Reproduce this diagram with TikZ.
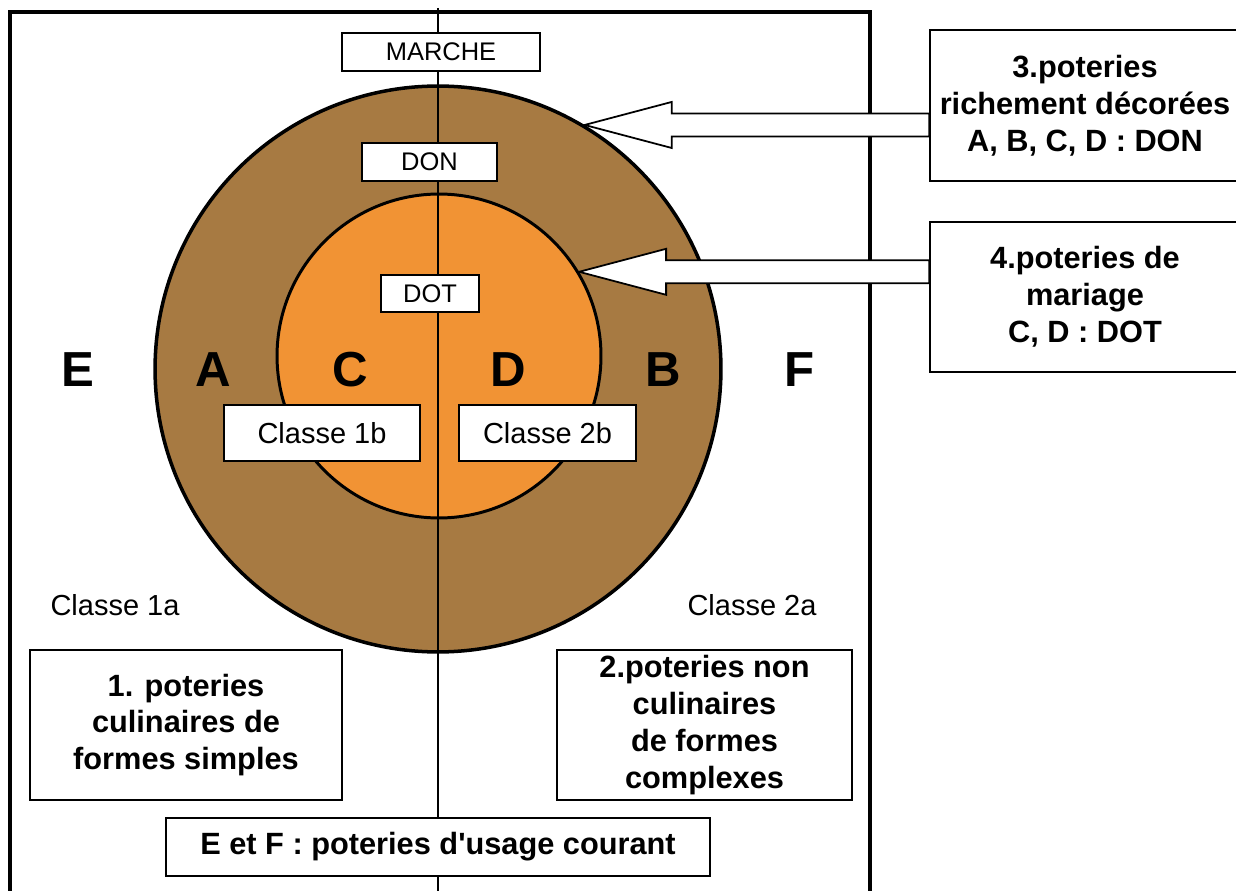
\documentclass[tikz,border=0pt]{standalone}
\usepackage{fontspec}
\setmainfont{Liberation Sans}
\usetikzlibrary{calc}
\definecolor{don}{RGB}{167,122,66}
\definecolor{dot}{RGB}{241,147,52}
\tikzstyle{etiquette}=[draw, fill=white, line width=0.9pt, inner sep=0pt, font=\fontsize{14.5}{16}\selectfont]
\tikzstyle{classe}=[etiquette, font=\fontsize{16.5}{19}\selectfont]
\tikzstyle{cadre}=[draw, fill=white, line width=0.9pt, inner sep=0pt, align=center, font=\bfseries\fontsize{17.5}{21}\selectfont]
\tikzset{lettre/.style={font=\bfseries\fontsize{28}{30}\selectfont}}
\tikzset{hollow/.style={draw, fill=white, line width=1pt, line join=miter}}
\newcommand\grossefleche[2]{%
  \draw[hollow] (#1) -- ++(87,-23) -- ++(0,11.5)
    -- ($(#2.west |- #1)+(0,-11.5)$) -- ($(#2.west |- #1)+(0,11.5)$)
    -- ($(#1)+(87,11.5)$) -- ++(0,11.5) -- cycle;}

\begin{document}
\begin{tikzpicture}[x=0.02cm, y=-0.02cm]
  \useasboundingbox (0,0) rectangle (1236,891);

  %% Rings
  \node[circle, draw, line width=2pt, fill=don, minimum size=11.32cm] (anneau) at (438,369) {};
  \node[circle, draw, line width=1.7pt, fill=dot, minimum size=6.48cm] (coeur) at (439,356) {};

  %% Frame and divide
  \draw[line width=2.2pt] (10,891) -- (10,12) -- (870,12) -- (870,891);
  \draw[line width=1.6pt] (438,8) -- (438,891);

  %% Labels on the rings
  \node[etiquette, minimum width=3.96cm, minimum height=0.76cm] (marche) at (441,52) {MARCHE};
  \node[etiquette, minimum width=2.7cm, minimum height=0.76cm] (donlbl) at (429.5,162) {DON};
  \node[etiquette, minimum width=1.96cm, minimum height=0.74cm] (dotlbl) at (430,293.5) {DOT};
  \node[classe, minimum width=3.92cm, minimum height=1.12cm] (c1b) at (322,433) {Classe 1b};
  \node[classe, minimum width=3.54cm, minimum height=1.12cm] (c2b) at (547.5,433) {Classe 2b};

  \node[lettre] (E) at (78,370) {E};
  \node[lettre] (A) at (213,370) {A};
  \node[lettre] (C) at (350,370) {C};
  \node[lettre] (D) at (508,370) {D};
  \node[lettre] (B) at (663,370) {B};
  \node[lettre] (F) at (800,370) {F};

  \node[font=\fontsize{16.5}{19}\selectfont] (c1a) at (115,605) {Classe 1a};
  \node[font=\fontsize{16.5}{19}\selectfont] (c2a) at (752,605) {Classe 2a};

  %% Boxes
  \node[cadre, minimum width=6.24cm, minimum height=3cm] (p1) at (186,725) {1. poteries\\culinaires de\\formes simples};
  \node[cadre, minimum width=5.9cm, minimum height=3cm] (p2) at (704.5,725) {2.poteries non\\culinaires\\de formes\\complexes};
  \node[cadre, minimum width=10.88cm, minimum height=1.16cm] (ef) at (438,847) {E et F : poteries d\textquotesingle usage courant};
  \node[cadre, minimum width=6.2cm, minimum height=3.02cm] (p3) at (1085,105.5) {3.poteries\\richement décorées\\A, B, C, D : DON};
  \node[cadre, minimum width=6.2cm, minimum height=3cm] (p4) at (1085,297) {4.poteries de\\mariage\\C, D : DOT};

  %% Arrows
  \grossefleche{anneau.59.5}{p3}
  \grossefleche{coeur.31}{p4}
\end{tikzpicture}
\end{document}
